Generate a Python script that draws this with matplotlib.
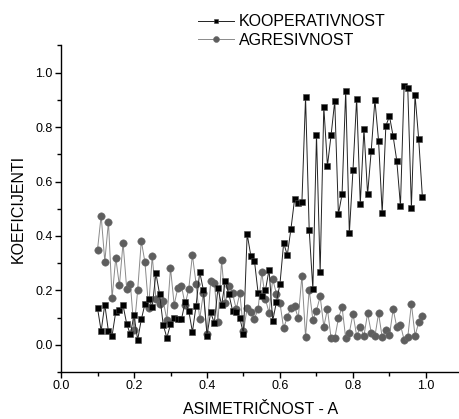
import numpy as np
import matplotlib
matplotlib.use('Agg')
from matplotlib import pyplot as plt
from matplotlib.ticker import MultipleLocator

plt.rcParams['font.family'] = ['Liberation Sans', 'DejaVu Sans']

# asimetričnost A = 0.10 ... 0.99
asimetricnost = [round(0.10 + 0.01 * i, 2) for i in range(90)]

kooperativnost = [
    0.135, 0.051, 0.148, 0.049, 0.034, 0.121, 0.128, 0.145, 0.077, 0.038,
    0.109, 0.018, 0.093, 0.150, 0.170, 0.140, 0.263, 0.187, 0.074, 0.026,
    0.075, 0.100, 0.096, 0.094, 0.156, 0.126, 0.047, 0.143, 0.268, 0.202,
    0.034, 0.119, 0.080, 0.208, 0.145, 0.235, 0.186, 0.126, 0.120, 0.098,
    0.040, 0.407, 0.328, 0.309, 0.190, 0.180, 0.200, 0.276, 0.088, 0.156,
    0.225, 0.374, 0.330, 0.426, 0.536, 0.521, 0.523, 0.910, 0.422, 0.205,
    0.771, 0.266, 0.875, 0.658, 0.771, 0.896, 0.480, 0.553, 0.933, 0.410,
    0.643, 0.905, 0.519, 0.793, 0.553, 0.714, 0.900, 0.750, 0.485, 0.805,
    0.840, 0.766, 0.676, 0.511, 0.952, 0.944, 0.504, 0.918, 0.756, 0.545,
]

agresivnost = [
    0.349, 0.475, 0.306, 0.452, 0.172, 0.320, 0.218, 0.375, 0.206, 0.225,
    0.055, 0.200, 0.382, 0.303, 0.137, 0.326, 0.170, 0.150, 0.162, 0.092,
    0.282, 0.147, 0.208, 0.217, 0.148, 0.205, 0.330, 0.225, 0.094, 0.190,
    0.040, 0.233, 0.227, 0.083, 0.310, 0.153, 0.217, 0.190, 0.131, 0.190,
    0.051, 0.135, 0.122, 0.096, 0.131, 0.267, 0.169, 0.117, 0.242, 0.188,
    0.153, 0.060, 0.103, 0.135, 0.141, 0.098, 0.254, 0.029, 0.202, 0.092,
    0.126, 0.178, 0.067, 0.131, 0.024, 0.024, 0.097, 0.139, 0.024, 0.045,
    0.114, 0.033, 0.064, 0.033, 0.116, 0.045, 0.031, 0.116, 0.027, 0.055,
    0.035, 0.131, 0.065, 0.074, 0.018, 0.027, 0.151, 0.033, 0.082, 0.107,
]

fig = plt.figure(figsize=(4.6, 4.19), dpi=100)
ax = fig.add_axes([61 / 460, 47 / 419, 1 - 61 / 460, (372 - 45.5) / 419])

ax.plot(asimetricnost, kooperativnost, color='#222222', linewidth=0.7,
        marker='s', markersize=4.2, markerfacecolor='black',
        markeredgecolor='#444444', markeredgewidth=0.4, label='KOOPERATIVNOST',
        zorder=3)
ax.plot(asimetricnost, agresivnost, color='#8a8a8a', linewidth=0.7,
        marker='o', markersize=5.3, markerfacecolor='#5e5e5e',
        markeredgecolor='#6a6a6a', markeredgewidth=0.4, label='AGRESIVNOST',
        zorder=2)

ax.set_xlim(0, 399 / 365)
ax.set_ylim(-0.1, 1.1)

ax.xaxis.set_minor_locator(MultipleLocator(0.1))
ax.yaxis.set_minor_locator(MultipleLocator(0.1))
ax.set_xticks([0.0, 0.2, 0.4, 0.6, 0.8, 1.0])
ax.set_xticklabels(['0.0', '0.2', '0.4', '0.6', '0.8', '1.0'])
ax.set_yticks([0.0, 0.2, 0.4, 0.6, 0.8, 1.0])
ax.set_yticklabels(['0.0', '0.2', '0.4', '0.6', '0.8', '1.0'])

for s in ['top', 'right']:
    ax.spines[s].set_visible(False)
for s in ['left', 'bottom']:
    ax.spines[s].set_linewidth(1.0)

ax.tick_params(axis='both', which='major', direction='out', length=4,
               width=1, labelsize=9, pad=2)
ax.tick_params(axis='both', which='minor', direction='out', length=3, width=1)

ax.set_xlabel('ASIMETRIČNOST - A', fontsize=11.5, labelpad=7)
ax.set_ylabel('KOEFICIJENTI', fontsize=11.5, labelpad=7)

fig.legend(loc='upper left', bbox_to_anchor=(192 / 460, 1 - 8 / 419),
           frameon=False, fontsize=11.5, handlelength=2.2, handletextpad=0.35,
           labelspacing=0.2, borderaxespad=0, markerscale=0.8)

fig.savefig('out.png', dpi=100)
